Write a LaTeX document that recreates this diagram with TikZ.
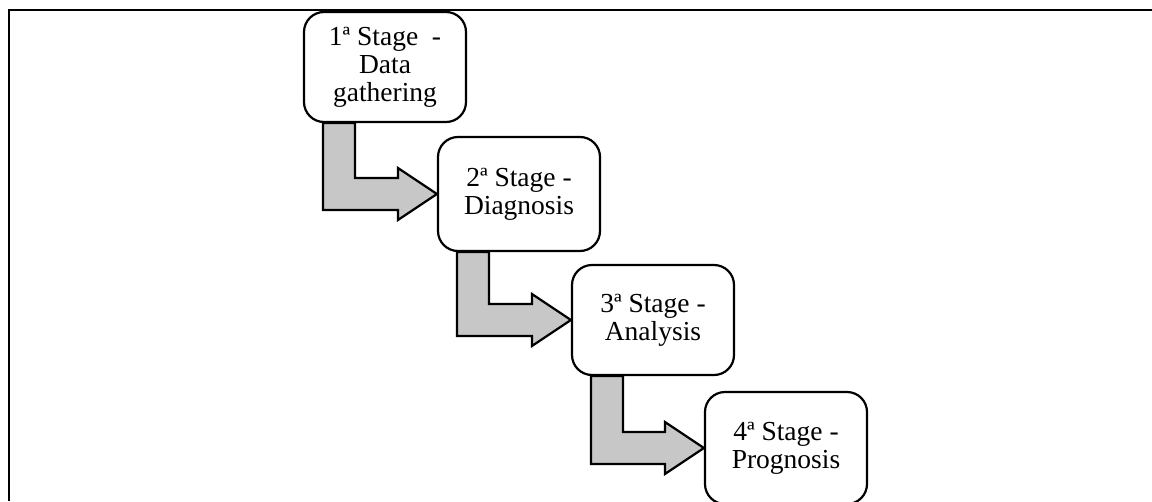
\documentclass[tikz,border=0pt]{standalone}
\usepackage{fontspec}
\setmainfont{Liberation Serif}
\usetikzlibrary{calc,backgrounds}
\tikzset{
  stagebox/.style={draw=black, line width=2.2pt, fill=white, rounded corners=20pt,
    minimum width=162pt, minimum height=112pt, align=center, inner sep=0pt,
    font=\fontsize{27.5}{28}\selectfont},
  bentarrow/.style={draw=black, line width=2.2pt, fill=black!22, line join=miter},
  frameline/.style={draw=black, line width=2pt}
}
\newcommand\stagearrow[2]{%
  \draw[bentarrow] let \p1=(#1.south west), \p2=(#2.west) in
    (\x1+20,\y1) -- (\x1+52,\y1) -- (\x1+52,\y2+16) -- (\x2-39,\y2+16)
    -- (\x2-39,\y2+26) -- (\x2,\y2) -- (\x2-39,\y2-26) -- (\x2-39,\y2-16)
    -- (\x1+20,\y2-16) -- cycle;}
\begin{document}
\begin{tikzpicture}[x=1pt,y=-1pt]
\useasboundingbox (0,0) rectangle (1152,501);
\coordinate (fa) at (1152,10);
\coordinate (fb) at (9,10);
\coordinate (fc) at (9,501);
\draw[frameline] (fa) -- (fb) -- (fc);
\node[stagebox, minimum height=110pt] (s1) at (385,67) {1ª Stage~ -\\Data\\gathering};
\node[stagebox, minimum height=114pt] (s2) at (519,194) {2ª Stage -\\Diagnosis};
\node[stagebox, minimum height=110pt] (s3) at (653,320) {3ª Stage -\\Analysis};
\node[stagebox, minimum height=112pt] (s4) at (786,448) {4ª Stage -\\Prognosis};
\begin{scope}[on background layer]
\stagearrow{s1}{s2}
\stagearrow{s2}{s3}
\stagearrow{s3}{s4}
\end{scope}
\end{tikzpicture}
\end{document}
